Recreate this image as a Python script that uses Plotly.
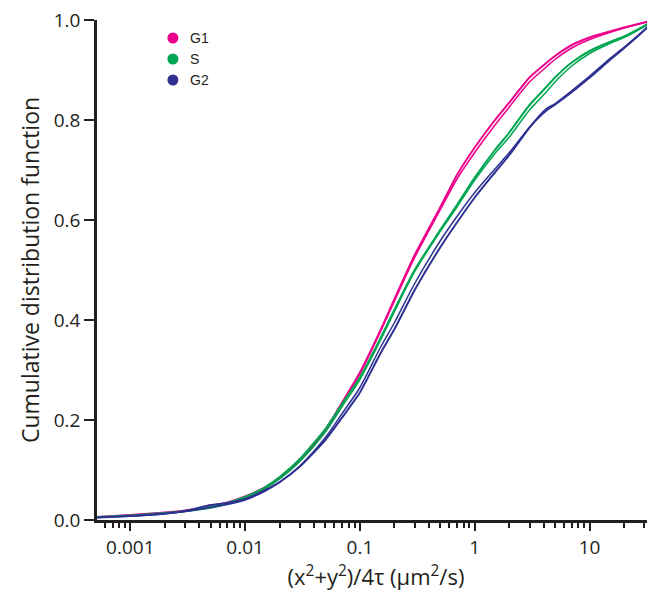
import plotly.graph_objects as go

# ---- data ----
x_vals = [0.0005, 0.001, 0.002, 0.003, 0.005, 0.007, 0.01, 0.015, 0.02, 0.03,
          0.05, 0.07, 0.1, 0.15, 0.2, 0.3, 0.5, 0.7, 1, 1.5,
          2, 3, 4.2, 5, 7, 10, 15, 20, 30, 37]

g1_data = [0.006, 0.010, 0.015, 0.019, 0.027, 0.035, 0.047, 0.066, 0.085, 0.120,
           0.180, 0.235, 0.295, 0.378, 0.442, 0.530, 0.625, 0.690, 0.745, 0.800,
           0.835, 0.885, 0.914, 0.928, 0.950, 0.965, 0.977, 0.985, 0.995, 1.0]
g1_fit = [0.006, 0.009, 0.014, 0.018, 0.026, 0.034, 0.045, 0.064, 0.083, 0.118,
          0.178, 0.232, 0.292, 0.375, 0.438, 0.525, 0.620, 0.682, 0.735, 0.790,
          0.826, 0.876, 0.906, 0.921, 0.944, 0.961, 0.975, 0.984, 0.995, 1.0]

s_data = [0.006, 0.009, 0.014, 0.018, 0.026, 0.034, 0.046, 0.066, 0.086, 0.122,
          0.182, 0.232, 0.285, 0.362, 0.421, 0.500, 0.580, 0.630, 0.685, 0.740,
          0.775, 0.830, 0.866, 0.885, 0.915, 0.938, 0.956, 0.967, 0.988, 1.0]
s_fit = [0.005, 0.008, 0.013, 0.017, 0.024, 0.032, 0.044, 0.063, 0.082, 0.117,
         0.176, 0.227, 0.281, 0.358, 0.417, 0.497, 0.577, 0.626, 0.680, 0.733,
         0.766, 0.820, 0.856, 0.876, 0.908, 0.933, 0.953, 0.965, 0.987, 1.0]

g2_data = [0.005, 0.008, 0.013, 0.018, 0.030, 0.034, 0.042, 0.060, 0.076, 0.107,
           0.160, 0.205, 0.255, 0.332, 0.382, 0.460, 0.545, 0.595, 0.645, 0.695,
           0.730, 0.785, 0.822, 0.832, 0.858, 0.887, 0.922, 0.945, 0.980, 1.0]
g2_fit = [0.005, 0.008, 0.012, 0.017, 0.025, 0.031, 0.040, 0.058, 0.075, 0.108,
          0.165, 0.213, 0.265, 0.344, 0.395, 0.473, 0.558, 0.607, 0.655, 0.702,
          0.735, 0.785, 0.818, 0.830, 0.855, 0.884, 0.919, 0.943, 0.979, 1.0]

series_names = ["G1", "S", "G2"]
series_colors = ["#ec008c", "#00a651", "#2e3192"]

x_tickvals = [0.001, 0.01, 0.1, 1, 10]
x_ticktext = ["0.001", "0.01", "0.1", "1", "10"]
y_tickvals = [0.0, 0.2, 0.4, 0.6, 0.8, 1.0]
y_ticktext = ["0.0", "0.2", "0.4", "0.6", "0.8", "1.0"]

# ---- figure ----
fig = go.Figure()
pairs = [(g1_data, g1_fit), (s_data, s_fit), (g2_data, g2_fit)]
for name, color, (d, f) in zip(series_names, series_colors, pairs):
    fig.add_trace(go.Scatter(x=x_vals, y=f, mode="lines",
                             line=dict(color=color, width=1.5, shape="spline", smoothing=0.8),
                             showlegend=False, hoverinfo="skip"))
    fig.add_trace(go.Scatter(x=x_vals, y=d, mode="lines",
                             line=dict(color=color, width=2, shape="spline", smoothing=0.5),
                             showlegend=False, name=name))

# legend drawn as dots + labels (paper coordinates)
legend_x = 0.136
legend_y = [0.964, 0.922, 0.880]
for name, color, ly in zip(series_names, series_colors, legend_y):
    fig.add_shape(type="circle", xref="paper", yref="paper",
                  xsizemode="pixel", ysizemode="pixel",
                  xanchor=legend_x, yanchor=ly, x0=-5.5, x1=5.5, y0=-5.5, y1=5.5,
                  fillcolor=color, line=dict(width=0))
    fig.add_annotation(text=name, xref="paper", yref="paper", x=legend_x + 0.027, y=ly,
                       xanchor="left", yanchor="middle", showarrow=False,
                       font=dict(family="Liberation Sans", size=14, color="#231f20"))

minor_vals = [k * 10.0 ** e for e in range(-4, 2) for k in range(2, 10)]

axis_color = "#231f20"
fig.update_layout(
    width=647, height=591,
    margin=dict(l=89, r=0, t=12, b=79),
    paper_bgcolor="white", plot_bgcolor="white",
    font=dict(family="Open Sans", color=axis_color),
    showlegend=False,
    xaxis=dict(type="log", range=[-3.29, 1.57], showgrid=False, zeroline=False,
               showline=True, linecolor=axis_color, linewidth=2.5,
               ticks="outside", ticklen=8, tickwidth=2, tickcolor=axis_color,
               tickvals=x_tickvals, ticktext=x_ticktext, ticklabeloverflow="allow",
               tickfont=dict(size=19, family="Open Sans", color=axis_color),
               minor=dict(ticks="outside", ticklen=5, tickwidth=2, tickcolor=axis_color,
                          tickmode="array", tickvals=minor_vals),
               title=dict(text="(x<sup>2</sup>+y<sup>2</sup>)/4τ (µm<sup>2</sup>/s)",
                          font=dict(size=22, family="Open Sans", color=axis_color), standoff=4)),
    yaxis=dict(range=[0, 1.0], showgrid=False, zeroline=False,
               showline=True, linecolor=axis_color, linewidth=2.5,
               ticks="outside", ticklen=10, tickwidth=2, tickcolor=axis_color,
               tickvals=y_tickvals, ticktext=y_ticktext, ticklabeloverflow="allow",
               tickfont=dict(size=19, family="Open Sans", color=axis_color),
               title=dict(text="Cumulative distribution function",
                          font=dict(size=23, family="Open Sans", color=axis_color), standoff=8)),
)

fig.write_html("out.html")
